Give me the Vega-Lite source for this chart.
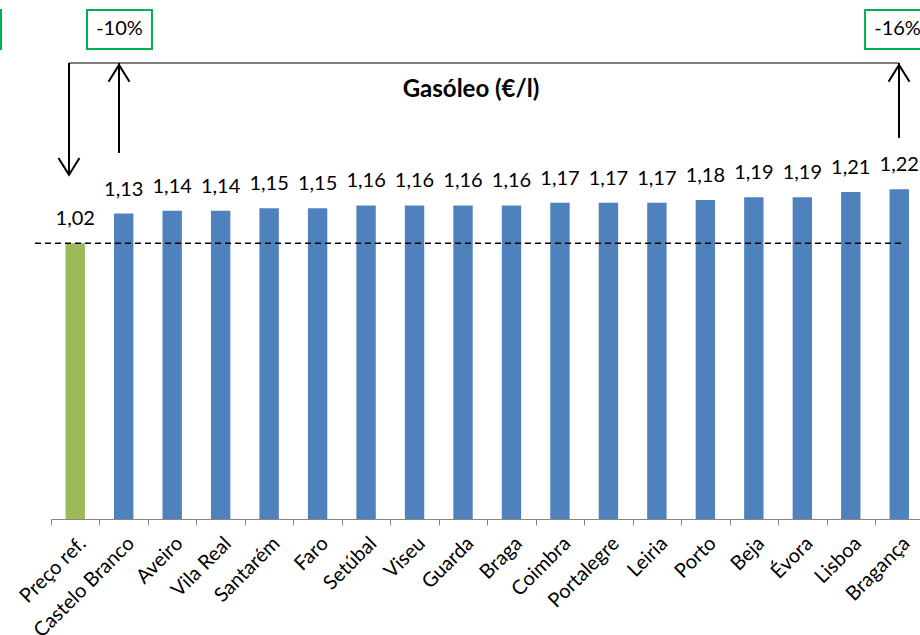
{
  "$schema": "https://vega.github.io/schema/vega-lite/v6.json",
  "width": 869,
  "height": 519,
  "autosize": {"type": "none"},
  "padding": {"left": 51, "top": 0, "right": 0, "bottom": 116},
  "config": {
    "view": {"stroke": null},
    "font": "Lato",
    "locale": {"number": {"decimal": ",", "thousands": ".", "grouping": [3], "currency": ["", " €"]}}
  },
  "datasets": {
    "precos": [
      {"local": "Preço ref.", "preco": 1.02, "tipo": "ref"},
      {"local": "Castelo Branco", "preco": 1.13, "tipo": "local"},
      {"local": "Aveiro", "preco": 1.14, "tipo": "local"},
      {"local": "Vila Real", "preco": 1.14, "tipo": "local"},
      {"local": "Santarém", "preco": 1.15, "tipo": "local"},
      {"local": "Faro", "preco": 1.15, "tipo": "local"},
      {"local": "Setúbal", "preco": 1.16, "tipo": "local"},
      {"local": "Viseu", "preco": 1.16, "tipo": "local"},
      {"local": "Guarda", "preco": 1.16, "tipo": "local"},
      {"local": "Braga", "preco": 1.16, "tipo": "local"},
      {"local": "Coimbra", "preco": 1.17, "tipo": "local"},
      {"local": "Portalegre", "preco": 1.17, "tipo": "local"},
      {"local": "Leiria", "preco": 1.17, "tipo": "local"},
      {"local": "Porto", "preco": 1.18, "tipo": "local"},
      {"local": "Beja", "preco": 1.19, "tipo": "local"},
      {"local": "Évora", "preco": 1.19, "tipo": "local"},
      {"local": "Lisboa", "preco": 1.21, "tipo": "local"},
      {"local": "Bragança", "preco": 1.22, "tipo": "local"}
    ],
    "referencia": [{"x": -0.33, "x2": 17.58, "y": 1.02}],
    "chaveta": [{"x": 0.371, "x2": 17.495, "y": 1.687}],
    "setas": [
      {"x": 0.371, "y": 1.687, "y2": 1.273},
      {"x": 1.403, "y": 1.687, "y2": 1.354},
      {"x": 17.495, "y": 1.687, "y2": 1.41}
    ],
    "pontas_baixo": [{"x": 0.371, "y": 1.273}],
    "pontas_cima": [{"x": 1.403, "y": 1.68}, {"x": 17.495, "y": 1.68}],
    "caixas": [
      {"x": -2.37, "x2": -1.032, "y": 1.739, "y2": 1.883, "txt": "", "xc": -1.7, "yc": 1.811},
      {"x": 0.743, "x2": 2.083, "y": 1.739, "y2": 1.883, "txt": "-10%", "xc": 1.413, "yc": 1.811},
      {"x": 16.794, "x2": 18.14, "y": 1.739, "y2": 1.883, "txt": "-16%", "xc": 17.465, "yc": 1.811}
    ],
    "titulo": [{"x": 8.665, "y": 1.587, "txt": "Gasóleo (€/l)"}]
  },
  "layer": [
    {
      "data": {"name": "precos"},
      "mark": {"type": "bar", "width": {"band": 0.4}},
      "encoding": {
        "x": {
          "field": "local", "type": "nominal", "sort": null,
          "scale": {"paddingInner": 0, "paddingOuter": 0, "range": [0, 872.5]},
          "axis": {
            "title": null, "labelAngle": -45, "tickBand": "extent",
            "domainColor": "#868686", "tickColor": "#868686", "tickSize": 6,
            "labelFontSize": 20, "labelColor": "#000000", "labelPadding": 8,
            "labelDx": -5, "labelFont": "Lato", "labelOverlap": false
          }
        },
        "y": {
          "field": "preco", "type": "quantitative",
          "scale": {"domain": [0, 1.92], "nice": false, "zero": true},
          "axis": null
        },
        "color": {
          "field": "tipo", "type": "nominal",
          "scale": {"domain": ["ref", "local"], "range": ["#9BBB59", "#4F81BD"]},
          "legend": null
        }
      }
    },
    {
      "data": {"name": "precos"},
      "mark": {"type": "text", "dy": -24, "baseline": "middle", "fontSize": 20, "color": "#000000"},
      "encoding": {
        "x": {"field": "local", "type": "nominal", "sort": null, "scale": {"paddingInner": 0, "paddingOuter": 0, "range": [0, 872.5]}, "axis": null},
        "y": {"field": "preco", "type": "quantitative"},
        "text": {"field": "preco", "type": "quantitative", "format": ".2f"}
      }
    },
    {
      "data": {"name": "referencia"},
      "mark": {"type": "rule", "color": "#000000", "strokeWidth": 1.5, "strokeDash": [6, 4]},
      "encoding": {
        "x": {"field": "x", "type": "quantitative", "scale": {"domain": [0, 18], "range": [0, 872.5], "nice": false, "zero": false}, "axis": null},
        "x2": {"field": "x2"},
        "y": {"field": "y", "type": "quantitative"}
      }
    },
    {
      "data": {"name": "chaveta"},
      "mark": {"type": "rule", "color": "#000000", "strokeWidth": 1.2},
      "encoding": {
        "x": {"field": "x", "type": "quantitative", "scale": {"domain": [0, 18], "range": [0, 872.5], "nice": false, "zero": false}, "axis": null},
        "x2": {"field": "x2"},
        "y": {"field": "y", "type": "quantitative"}
      }
    },
    {
      "data": {"name": "setas"},
      "mark": {"type": "rule", "color": "#000000", "strokeWidth": 2},
      "encoding": {
        "x": {"field": "x", "type": "quantitative", "scale": {"domain": [0, 18], "range": [0, 872.5], "nice": false, "zero": false}, "axis": null},
        "y": {"field": "y", "type": "quantitative"},
        "y2": {"field": "y2"}
      }
    },
    {
      "data": {"name": "pontas_baixo"},
      "mark": {"type": "point", "shape": "M-1,-1.6L0,0L1,-1.6", "filled": false, "stroke": "#000000", "strokeWidth": 2, "size": 441, "opacity": 1},
      "encoding": {
        "x": {"field": "x", "type": "quantitative", "scale": {"domain": [0, 18], "range": [0, 872.5], "nice": false, "zero": false}, "axis": null},
        "y": {"field": "y", "type": "quantitative"}
      }
    },
    {
      "data": {"name": "pontas_cima"},
      "mark": {"type": "point", "shape": "M-1,1.6L0,0L1,1.6", "filled": false, "stroke": "#000000", "strokeWidth": 2, "size": 441, "opacity": 1},
      "encoding": {
        "x": {"field": "x", "type": "quantitative", "scale": {"domain": [0, 18], "range": [0, 872.5], "nice": false, "zero": false}, "axis": null},
        "y": {"field": "y", "type": "quantitative"}
      }
    },
    {
      "data": {"name": "caixas"},
      "mark": {"type": "rect", "fill": null, "fillOpacity": 0, "stroke": "#00B050", "strokeWidth": 2},
      "encoding": {
        "x": {"field": "x", "type": "quantitative", "scale": {"domain": [0, 18], "range": [0, 872.5], "nice": false, "zero": false}, "axis": null},
        "x2": {"field": "x2"},
        "y": {"field": "y", "type": "quantitative"},
        "y2": {"field": "y2"}
      }
    },
    {
      "data": {"name": "caixas"},
      "mark": {"type": "text", "fontSize": 20, "color": "#000000", "baseline": "middle", "align": "center"},
      "encoding": {
        "x": {"field": "xc", "type": "quantitative", "scale": {"domain": [0, 18], "range": [0, 872.5], "nice": false, "zero": false}, "axis": null},
        "y": {"field": "yc", "type": "quantitative"},
        "text": {"field": "txt"}
      }
    },
    {
      "data": {"name": "titulo"},
      "mark": {"type": "text", "fontSize": 24, "fontWeight": "bold", "color": "#000000", "baseline": "middle", "align": "center"},
      "encoding": {
        "x": {"field": "x", "type": "quantitative", "scale": {"domain": [0, 18], "range": [0, 872.5], "nice": false, "zero": false}, "axis": null},
        "y": {"field": "y", "type": "quantitative"},
        "text": {"field": "txt"}
      }
    }
  ],
  "resolve": {"scale": {"x": "independent"}, "axis": {"x": "independent"}}
}
